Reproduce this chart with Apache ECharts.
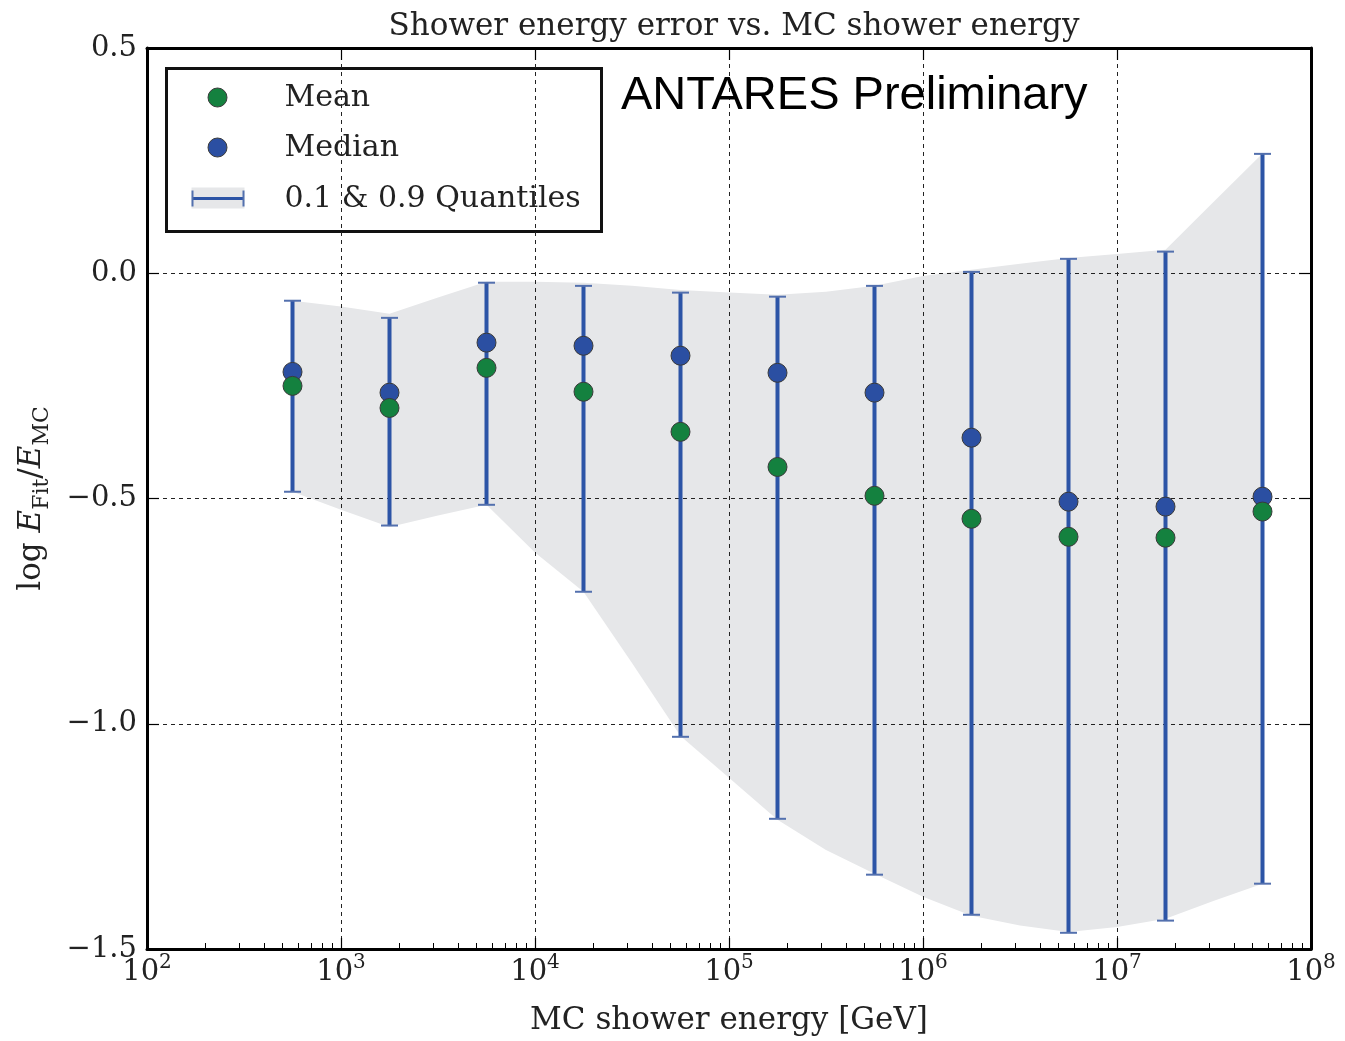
<!DOCTYPE html>
<html>
<head>
<meta charset="utf-8">
<title>Shower energy error vs. MC shower energy</title>
<script src="https://cdn.jsdelivr.net/npm/echarts@6/dist/echarts.min.js"></script>
<style>
  html, body { margin: 0; padding: 0; background: #ffffff; }
  #chart { width: 1345px; height: 1041px; }
</style>
</head>
<body>
<div id="chart"></div>
<script>
// Bin centres in log10(E_MC / GeV)
const binLogE = [2.75, 3.25, 3.75, 4.25, 4.75, 5.25, 5.75, 6.25, 6.75, 7.25, 7.75];
// log10(E_fit / E_MC) per bin
const meanVals   = [-0.250, -0.299, -0.210, -0.263, -0.352, -0.430, -0.494, -0.545, -0.585, -0.587, -0.529];
const medianVals = [-0.219, -0.265, -0.154, -0.161, -0.183, -0.221, -0.265, -0.365, -0.507, -0.518, -0.496];
const q90Vals    = [-0.061, -0.099, -0.021, -0.028, -0.043, -0.052, -0.028, 0.003, 0.032, 0.048, 0.265];
const q10Vals    = [-0.485, -0.560, -0.514, -0.707, -1.029, -1.211, -1.335, -1.424, -1.464, -1.437, -1.355];

// Outline of the 0.1 / 0.9 quantile band, sampled every quarter decade
const bandLogE  = [2.75, 3.0, 3.25, 3.5, 3.75, 4.0, 4.25, 4.5, 4.75, 5.0, 5.25, 5.5, 5.75, 6.0, 6.25, 6.5, 6.75, 7.0, 7.25, 7.5, 7.75];
const bandUpper = [-0.061, -0.074, -0.090, -0.054, -0.019, -0.019, -0.021, -0.028, -0.037, -0.043, -0.048, -0.041, -0.028, -0.006, 0.008, 0.021, 0.034, 0.043, 0.052, 0.159, 0.266];
const bandLower = [-0.485, -0.525, -0.563, -0.538, -0.514, -0.620, -0.707, -0.865, -1.027, -1.120, -1.213, -1.280, -1.333, -1.384, -1.426, -1.448, -1.462, -1.451, -1.433, -1.393, -1.355];

// Axis ticks
const xDecades = [2, 3, 4, 5, 6, 7, 8];
const yTicks = [-1.5, -1.0, -0.5, 0.0, 0.5];
const legendLabels = ['Mean', 'Median', '0.1 & 0.9 Quantiles'];

const SERIF = '"DejaVu Serif", "Liberation Serif", serif';
const GREEN = '#14813f';
const BLUE = '#2b4fa2';
const BAR = '#2c54a6';
const CAP = '#5370ae';
const BAND = '#e6e7e9';

// minor ticks at 2..9 x 10^n on the logarithmic energy axis
const minorTicks = [];
for (let d = xDecades[0]; d < xDecades[xDecades.length - 1]; d++) {
  for (let k = 2; k <= 9; k++) minorTicks.push(d + Math.log10(k));
}

const chart = echarts.init(document.getElementById('chart'), null, { renderer: 'canvas' });

const frameLine = { show: true, onZero: false, lineStyle: { color: '#000', width: 3 } };
const gridDash = { show: true, lineStyle: { color: '#222', width: 1, type: [4, 4] } };

const option = {
  animation: false,
  backgroundColor: '#ffffff',
  title: {
    text: 'Shower energy error vs. MC shower energy',
    left: 729,
    textAlign: 'center',
    top: 6,
    textStyle: { fontFamily: SERIF, fontWeight: 'normal', fontSize: 31, color: '#222' }
  },
  grid: { left: 147, right: 34, top: 48, bottom: 92, containLabel: false },
  xAxis: [
    {
      type: 'value', position: 'bottom', min: 2, max: 8, interval: 1, z: 3,
      axisLine: frameLine,
      axisTick: { show: true, inside: true, length: 11, lineStyle: { color: '#000', width: 1.2 } },
      splitLine: gridDash,
      axisLabel: {
        margin: 9,
        formatter: v => '{b|10}{s|' + v + '}',
        rich: {
          b: { fontFamily: SERIF, fontSize: 29, lineHeight: 29, color: '#222', verticalAlign: 'bottom' },
          s: { fontFamily: SERIF, fontSize: 20, lineHeight: 20, color: '#222', verticalAlign: 'bottom', padding: [0, 0, 14, 0] }
        }
      },
      name: 'MC shower energy [GeV]',
      nameLocation: 'middle',
      nameGap: 56,
      nameTextStyle: { fontFamily: SERIF, fontSize: 31, color: '#222' }
    },
    {
      type: 'value', position: 'bottom', min: 2, max: 8, z: 3,
      axisLine: { show: false, onZero: false },
      axisTick: { show: true, inside: true, length: 6, customValues: minorTicks, lineStyle: { color: '#000', width: 1 } },
      axisLabel: { show: false },
      splitLine: { show: false }
    },
    {
      type: 'value', position: 'top', min: 2, max: 8, interval: 1, z: 3,
      axisLine: frameLine,
      axisTick: { show: true, inside: true, length: 12, lineStyle: { color: '#000', width: 1.2 } },
      axisLabel: { show: false },
      splitLine: { show: false }
    }
  ],
  yAxis: [
    {
      type: 'value', position: 'left', min: yTicks[0], max: yTicks[yTicks.length - 1], interval: 0.5, z: 3,
      axisLine: frameLine,
      axisTick: { show: true, inside: true, length: 12, lineStyle: { color: '#000', width: 1.2 } },
      splitLine: gridDash,
      axisLabel: {
        margin: 10,
        fontFamily: SERIF, fontSize: 29, color: '#222',
        formatter: v => v.toFixed(1).replace('-', '\u2212')
      },
      name: '{t|log }{i|E}{sub|Fit}{t|/}{i|E}{sub|MC}',
      nameLocation: 'middle',
      nameRotate: 90,
      nameGap: 100,
      nameTextStyle: {
        rich: {
          t: { fontFamily: SERIF, fontSize: 31, lineHeight: 31, color: '#222', verticalAlign: 'top' },
          i: { fontFamily: SERIF, fontStyle: 'italic', fontSize: 31, lineHeight: 31, color: '#222', verticalAlign: 'top' },
          sub: { fontFamily: SERIF, fontSize: 22, lineHeight: 22, color: '#222', verticalAlign: 'top', padding: [15, 0, 0, 0] }
        }
      }
    },
    {
      type: 'value', position: 'right', min: yTicks[0], max: yTicks[yTicks.length - 1], interval: 0.5, z: 3,
      axisLine: frameLine,
      axisTick: { show: true, inside: true, length: 12, lineStyle: { color: '#000', width: 1.2 } },
      axisLabel: { show: false },
      splitLine: { show: false }
    }
  ],
  graphic: [
    {
      type: 'text', left: 621, top: 73, z: 20,
      style: { text: 'ANTARES Preliminary', font: '47px "Liberation Sans", Arial, sans-serif', fill: '#000' }
    },
    {
      type: 'group', left: 165, top: 67, z: 20,
      children: [
        { type: 'rect', shape: { x: 0, y: 0, width: 435, height: 163 }, style: { fill: '#fff', stroke: '#111', lineWidth: 3 } },
        { type: 'circle', shape: { cx: 51, cy: 29, r: 9.5 }, style: { fill: GREEN, stroke: '#3a3a3a', lineWidth: 1 } },
        { type: 'circle', shape: { cx: 51, cy: 79, r: 9.5 }, style: { fill: BLUE, stroke: '#3a3a3a', lineWidth: 1 } },
        { type: 'rect', shape: { x: 25, y: 119, width: 53, height: 21 }, style: { fill: BAND } },
        { type: 'line', shape: { x1: 26, y1: 130, x2: 77, y2: 130 }, style: { stroke: BAR, lineWidth: 3 } },
        { type: 'line', shape: { x1: 26, y1: 122, x2: 26, y2: 138 }, style: { stroke: CAP, lineWidth: 2 } },
        { type: 'line', shape: { x1: 77, y1: 122, x2: 77, y2: 138 }, style: { stroke: CAP, lineWidth: 2 } },
        { type: 'text', x: 118, y: 30, style: { text: legendLabels[0], font: '30px ' + SERIF, fill: '#222', verticalAlign: 'middle' } },
        { type: 'text', x: 118, y: 80, style: { text: legendLabels[1], font: '30px ' + SERIF, fill: '#222', verticalAlign: 'middle' } },
        { type: 'text', x: 118, y: 131, style: { text: legendLabels[2], font: '30px ' + SERIF, fill: '#222', verticalAlign: 'middle' } }
      ]
    }
  ],
  series: [
    {
      // shaded quantile band, drawn once as one polygon
      name: 'band',
      type: 'custom',
      xAxisIndex: 0, yAxisIndex: 0,
      z: 1,
      silent: true,
      data: [[bandLogE[0], bandUpper[0]]],
      renderItem: (params, api) => {
        const pts = [];
        for (let i = 0; i < bandLogE.length; i++) pts.push(api.coord([bandLogE[i], bandUpper[i]]));
        for (let i = bandLogE.length - 1; i >= 0; i--) pts.push(api.coord([bandLogE[i], bandLower[i]]));
        return { type: 'polygon', shape: { points: pts }, style: { fill: BAND } };
      }
    },
    {
      name: '0.1 & 0.9 Quantiles',
      type: 'custom',
      xAxisIndex: 0, yAxisIndex: 0,
      z: 5,
      data: binLogE.map((x, i) => [x, q10Vals[i], q90Vals[i]]),
      encode: { x: 0, y: [1, 2] },
      renderItem: (params, api) => {
        const x = api.value(0);
        const lo = api.coord([x, api.value(1)]);
        const hi = api.coord([x, api.value(2)]);
        const cap = 8.5;
        return {
          type: 'group',
          children: [
            { type: 'line', shape: { x1: hi[0], y1: hi[1], x2: lo[0], y2: lo[1] }, style: { stroke: BAR, lineWidth: 4 } },
            { type: 'line', shape: { x1: hi[0] - cap, y1: hi[1], x2: hi[0] + cap, y2: hi[1] }, style: { stroke: CAP, lineWidth: 2 } },
            { type: 'line', shape: { x1: lo[0] - cap, y1: lo[1], x2: lo[0] + cap, y2: lo[1] }, style: { stroke: CAP, lineWidth: 2 } }
          ]
        };
      }
    },
    {
      name: 'Median',
      type: 'scatter',
      xAxisIndex: 0, yAxisIndex: 0,
      z: 6,
      symbol: 'circle',
      symbolSize: 19,
      itemStyle: { color: BLUE, borderColor: '#3a3a3a', borderWidth: 1, opacity: 1 },
      data: binLogE.map((x, i) => [x, medianVals[i]])
    },
    {
      name: 'Mean',
      type: 'scatter',
      xAxisIndex: 0, yAxisIndex: 0,
      z: 7,
      symbol: 'circle',
      symbolSize: 19,
      itemStyle: { color: GREEN, borderColor: '#3a3a3a', borderWidth: 1, opacity: 1 },
      data: binLogE.map((x, i) => [x, meanVals[i]])
    }
  ]
};

chart.setOption(option);
</script>
</body>
</html>
